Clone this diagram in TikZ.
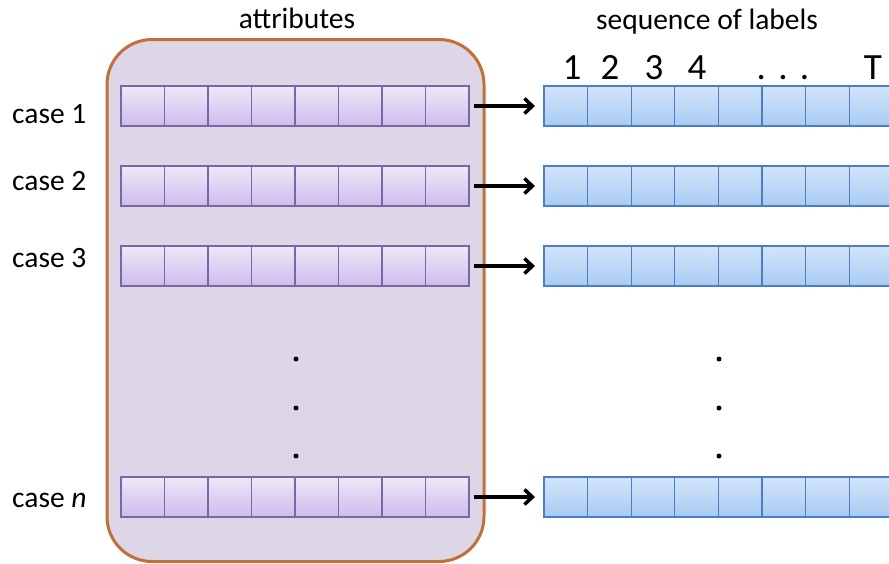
\documentclass[tikz,border=0pt]{standalone}
\usepackage{fontspec}
\setmainfont{Carlito}
\usetikzlibrary{arrows.meta}
\definecolor{boxfill}{HTML}{DDD6E6}
\definecolor{boxline}{HTML}{C0703A}
\definecolor{pcelltop}{HTML}{EFE8F9}
\definecolor{pcellbot}{HTML}{CDBBEB}
\definecolor{pline}{HTML}{7A67A8}
\definecolor{bcelltop}{HTML}{D2E4FA}
\definecolor{bcellbot}{HTML}{A9CBF2}
\definecolor{bline}{HTML}{4A7EC8}
\begin{document}
\begin{tikzpicture}[x=1pt,y=-1pt,
  pcell/.style={draw=pline, line width=1.3pt, top color=pcelltop, bottom color=pcellbot,
    minimum width=43.5pt, minimum height=40pt, inner sep=0pt, outer sep=0pt, anchor=west},
  bcell/.style={draw=bline, line width=1.3pt, top color=bcelltop, bottom color=bcellbot,
    minimum width=43.6pt, minimum height=40pt, inner sep=0pt, outer sep=0pt, anchor=west},
  lbl/.style={font=\fontsize{29.5}{33}\selectfont, inner sep=0pt},
  num/.style={font=\fontsize{37}{40}\selectfont, inner sep=0pt, anchor=base},
  flow/.style={-{Straight Barb[length=8pt,width=15pt,line width=3.5pt]}, line width=3.8pt, shorten <=5pt, shorten >=9pt},
  dotmark/.style={circle, fill=black, inner sep=0pt, minimum size=5pt},
  attrbox/.style={draw=boxline, fill=boxfill, line width=3pt, rounded corners=45pt,
    minimum width=377pt, minimum height=522pt, inner sep=0pt}
]
\useasboundingbox (0,0) rectangle (889,563);
\node[attrbox] (box) at (295.5,300.5) {};
\node[lbl, anchor=base] (attr) at (297,28) {attributes};
\node[lbl, anchor=base] (seq) at (707,29) {sequence of labels};
% position numbers
\node[num] (t1) at (572,79) {1};
\node[num] (t2) at (610,79) {2};
\node[num] (t3) at (654,79) {3};
\node[num] (t4) at (697,79) {4};
\node[num] (tdots) at (783,79) {.\,\,.\,\,.};
\node[num] (tT) at (873,79) {T};
% rows
\foreach \r/\y in {1/106,2/186,3/266,4/497}{
  \foreach \c in {1,...,8}{
    \node[pcell] (p\r-\c) at ({121+43.5*(\c-1)},\y) {};
    \node[bcell] (b\r-\c) at ({544+43.6*(\c-1)},\y) {};
  }
  \draw[flow] (p\r-8.east) -- (b\r-1.west);
}
% case labels
\node[lbl, anchor=base west] (c1) at (12,123) {case 1};
\node[lbl, anchor=base west] (c2) at (12,190) {case 2};
\node[lbl, anchor=base west] (c3) at (12,267) {case 3};
\node[lbl, anchor=base west] (cn) at (12,507) {case \textit{n}};
% vertical ellipses
\foreach \i/\y in {1/359,2/408,3/456}{
  \node[dotmark] (dl\i) at (296,\y) {};
  \node[dotmark] (dr\i) at (719,\y) {};
}
\end{tikzpicture}
\end{document}
